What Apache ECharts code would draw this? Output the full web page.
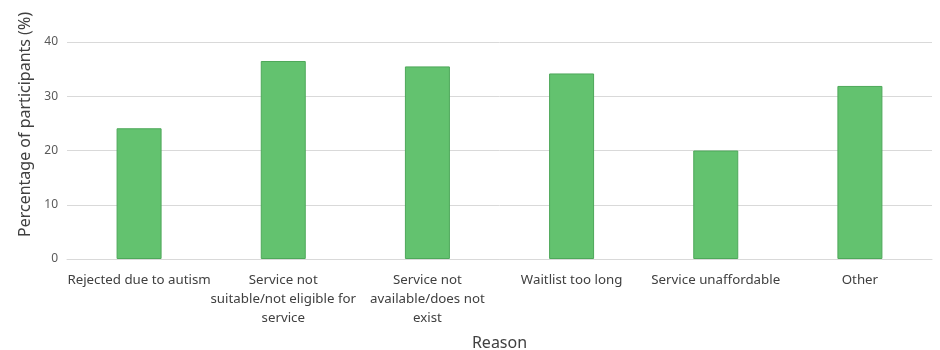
<!DOCTYPE html>
<html>
<head>
<meta charset="utf-8">
<script src="https://cdn.jsdelivr.net/npm/echarts@6/dist/echarts.min.js"></script>
<style>
  html, body { margin: 0; padding: 0; background: #fff; }
  #chart { width: 940px; height: 350px; }
</style>
</head>
<body>
<div id="chart"></div>
<script>
// Reasons participants could not access a service
const categories = [
  'Rejected due to autism',
  'Service not\nsuitable/not eligible for\nservice',
  'Service not\navailable/does not\nexist',
  'Waitlist too long',
  'Service unaffordable',
  'Other'
];
const percentages = [24.1, 36.5, 35.5, 34.2, 20.0, 31.9];
const yTicks = [0, 10, 20, 30, 40];

const FONT = '"Noto Sans", sans-serif';

const chart = echarts.init(document.getElementById('chart'), null, { renderer: 'canvas' });
chart.setOption({
  animation: false,
  grid: { left: 67, right: 8, top: 42, bottom: 91, containLabel: false, outerBoundsMode: 'none' },
  xAxis: {
    type: 'category',
    data: categories,
    name: 'Reason',
    nameLocation: 'middle',
    nameGap: 76,
    nameTextStyle: { fontFamily: FONT, fontSize: 16, color: '#404040' },
    axisLine: { show: true, lineStyle: { color: '#d9d9d9', width: 1 } },
    axisTick: { show: false },
    axisLabel: {
      interval: 0,
      margin: 12,
      fontFamily: FONT,
      fontSize: 13.3,
      lineHeight: 19,
      color: '#404040'
    }
  },
  yAxis: {
    type: 'value',
    min: yTicks[0],
    max: yTicks[yTicks.length - 1],
    interval: 10,
    name: 'Percentage of participants (%)',
    nameLocation: 'middle',
    nameRotate: 90,
    nameGap: 33,
    nameTextStyle: { fontFamily: FONT, fontSize: 16, color: '#404040', padding: [0, 0, 0, 52] },
    axisLine: { show: false },
    axisTick: { show: false },
    splitLine: { lineStyle: { color: '#d9d9d9', width: 1 } },
    axisLabel: { fontFamily: FONT, fontSize: 12, color: '#595959', margin: 9 }
  },
  series: [{
    type: 'bar',
    data: percentages,
    barWidth: 45,
    itemStyle: { color: '#63c26f', borderColor: '#4ea85a', borderWidth: 1 }
  }]
});
</script>
</body>
</html>
